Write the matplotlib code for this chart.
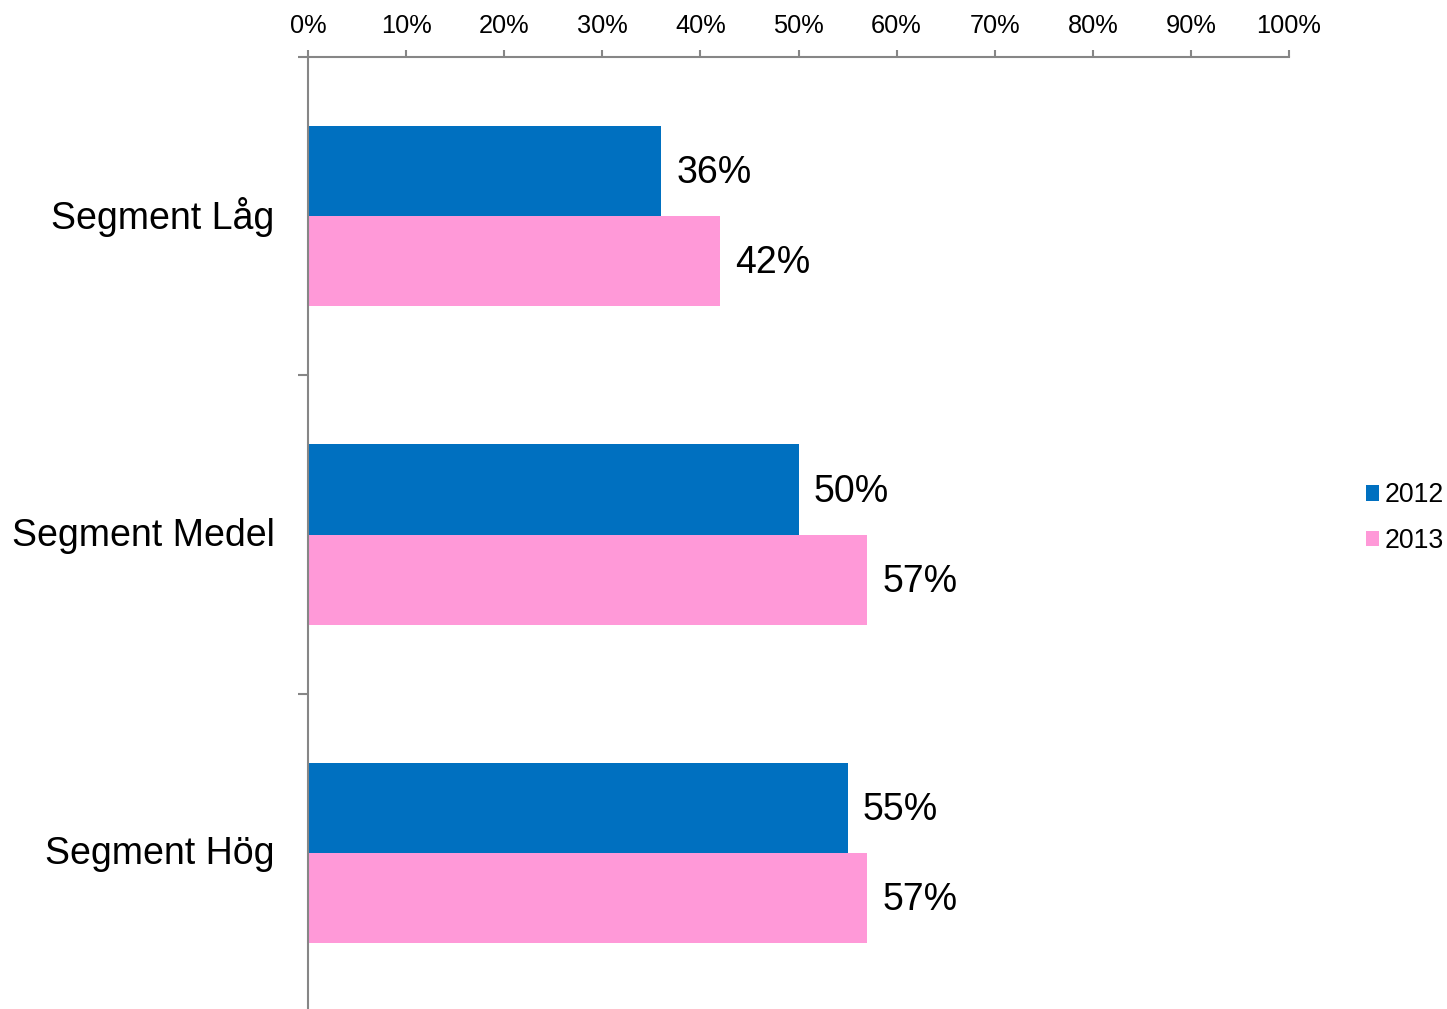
import numpy as np
import matplotlib.pyplot as plt
from matplotlib import rc
from matplotlib.ticker import FixedLocator, PercentFormatter
from matplotlib.transforms import ScaledTranslation

rc('font', family=['Liberation Sans', 'DejaVu Sans'])

# Data
categories = ['Segment Låg', 'Segment Medel', 'Segment Hög']
years = ['2012', '2013']
values_2012 = [36, 50, 55]
values_2013 = [42, 57, 57]
colors = ['#0070C0', '#FF99D8']

fig = plt.figure(figsize=(14.47, 10.09), dpi=100)
ax = fig.add_axes([308/1447, -3/1009, 981/1447, 955/1009])

y = np.arange(len(categories))
h = 0.283
ax.barh(y - h/2, values_2012, height=h, color=colors[0], label=years[0])
ax.barh(y + h/2, values_2013, height=h, color=colors[1], label=years[1])

# Value labels
for vals, off in [(values_2012, -h/2), (values_2013, h/2)]:
    for i, v in enumerate(vals):
        ax.annotate(f'{v}%', (v, i + off), xytext=(11, -1.5), textcoords='offset points',
                    va='center', ha='left', fontsize=27)

ax.set_xlim(0, 100)
ax.set_ylim(len(categories) - 0.5, -0.5)

# Axes styling
gray = '#868686'
for s in ['right', 'bottom']:
    ax.spines[s].set_visible(False)
for s in ['left', 'top']:
    ax.spines[s].set_color(gray)
    ax.spines[s].set_linewidth(1.5)

ax.xaxis.tick_top()
ax.set_xticks(np.arange(0, 101, 10))
ax.xaxis.set_major_formatter(PercentFormatter(decimals=0))
ax.tick_params(axis='x', direction='out', length=5, width=1.5, color=gray,
               labelsize=18.3, pad=9)

ax.yaxis.set_major_locator(FixedLocator(np.arange(-0.5, len(categories), 1.0)))
ax.yaxis.set_major_formatter(plt.NullFormatter())
ax.yaxis.set_minor_locator(FixedLocator(y))
ax.set_yticklabels(categories, minor=True)
ax.tick_params(axis='y', which='major', direction='out', length=7.5, width=1.5, color=gray)
ax.tick_params(axis='y', which='minor', length=0, labelsize=27, pad=24)
# nudge category labels up a little
shift = ScaledTranslation(0, 3/100, fig.dpi_scale_trans)
for lbl in ax.get_yticklabels(minor=True):
    lbl.set_transform(lbl.get_transform() + shift)

fig.legend(loc='center left', bbox_to_anchor=(1366/1447, 1 - 518/1009), frameon=False,
           fontsize=19.2, handlelength=0.5, handleheight=0.5, handletextpad=0.2,
           labelspacing=0.72, borderpad=0, borderaxespad=0)

fig.savefig('out.png', dpi=100)
